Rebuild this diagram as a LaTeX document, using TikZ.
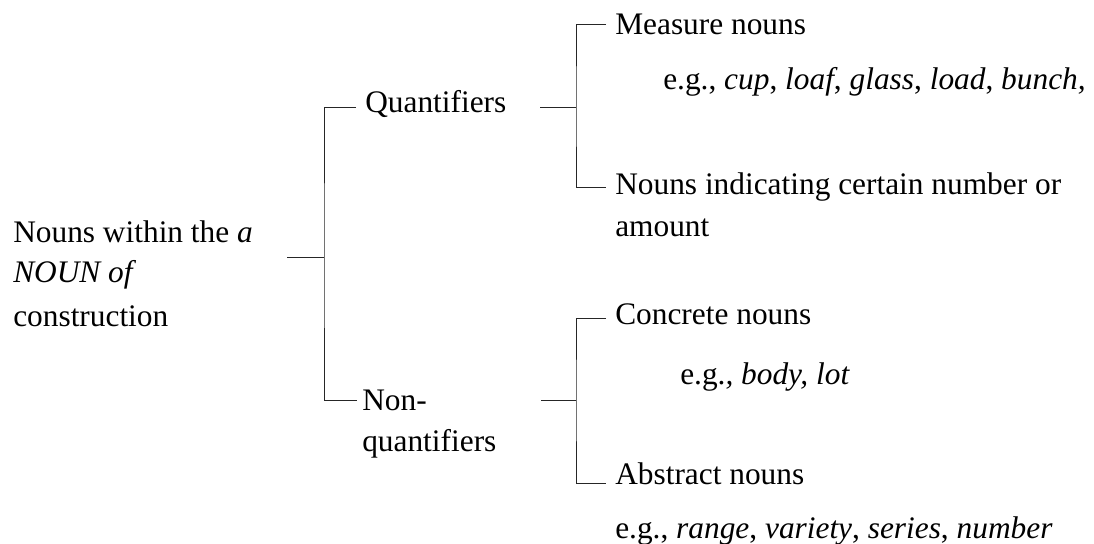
\documentclass[tikz,border=0pt]{standalone}
\usepackage{fontspec}
\setmainfont{Liberation Serif}
\begin{document}
\begin{tikzpicture}[x=0.025cm,y=-0.025cm]

		\tikzset{lbl/.style={anchor=base west,inner sep=0pt,font=\fontsize{22.3}{30}\selectfont},
			branch/.style={line width=0.7pt,black!85}}

		\useasboundingbox (0,0) rectangle (1094,544);

		%\draw[help lines] (0,0) grid[step=50] (1094,544);

		\node[lbl] (root1) at (13,243) {Nouns within the \textit{a}};
		\node[lbl] (root2) at (13,283) {\textit{NOUN of}};
		\node[lbl] (root3) at (13,327) {construction};
		\coordinate (r0) at (287,257);
		\coordinate (j0) at (324,257);
		\draw[branch] (r0) -- (j0);

		\coordinate (q-in) at (356,107);
		\coordinate (nq-in) at (357,400);
		\draw[branch] (q-in) -| (j0) |- (nq-in);
			\node[lbl] (quant) at (365,113) {Quantifiers};
			\node[lbl] (nonq1) at (362,411) {Non-};
			\node[lbl] (nonq2) at (362,452) {quantifiers};

		\coordinate (q-out) at (540,107);
		\coordinate (j1) at (576,107);
		\coordinate (mn-in) at (606,24);
		\coordinate (ni-in) at (606,187);
		\draw[branch] (q-out) -- (j1);
		\draw[branch] (mn-in) -| (j1) |- (ni-in);
			\node[lbl] (meas) at (615,35) {Measure nouns};
			\node[lbl] (measeg) at (663,90) {e.g., \textit{cup}, \textit{loaf}, \textit{glass}, \textit{load}, \textit{bunch,}};
			\node[lbl] (numb1) at (615,195) {Nouns indicating certain number or};
			\node[lbl] (numb2) at (615,237) {amount};

		\coordinate (nq-out) at (541,400);
		\coordinate (j2) at (576,400);
		\coordinate (cn-in) at (606,318);
		\coordinate (an-in) at (606,483);
		\draw[branch] (nq-out) -- (j2);
		\draw[branch] (cn-in) -| (j2) |- (an-in);
			\node[lbl] (conc) at (615,325) {Concrete nouns};
			\node[lbl] (conceg) at (680,385) {e.g.\textit{, body, lot}};
			\node[lbl] (abst) at (615,485) {Abstract nouns};
			\node[lbl] (abseg) at (615,538) {e.g., \textit{range}, \textit{variety}, \textit{series}, \textit{number}};

	\end{tikzpicture}
\end{document}
